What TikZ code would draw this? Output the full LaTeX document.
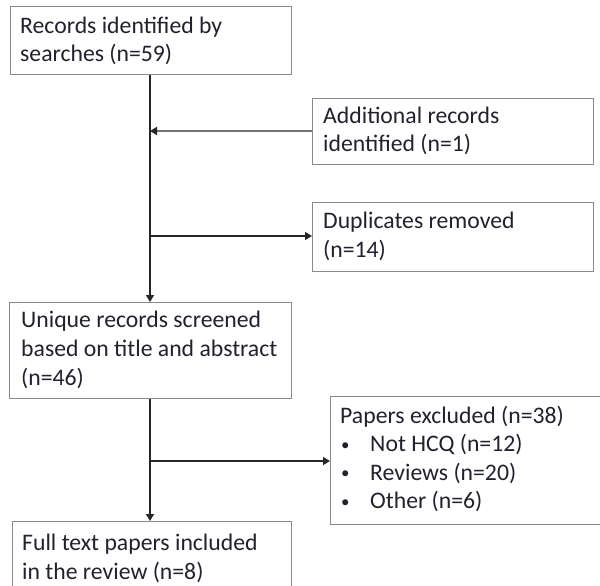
\documentclass[tikz,border=0pt]{standalone}
\usepackage{fontspec}
\setmainfont{Carlito}
\usetikzlibrary{arrows.meta}
\definecolor{boxgray}{HTML}{8A8A8A}
\definecolor{txt}{HTML}{22222E}
\tikzset{
  box/.style={draw=boxgray, line width=1.2bp, anchor=north west, inner sep=0pt},
  lbl/.style={anchor=base west, inner sep=0pt, align=left, text=txt,
    font=\fontsize{23.8}{29}\selectfont},
  conn/.style={draw=black!85, line width=1.4bp},
  arr/.style={conn, -{Triangle[length=7bp,width=8bp,color=black!85]}},
}
\newcommand{\bul}{\makebox[30bp][l]{\hspace*{1bp}\raisebox{1.5bp}{\fontsize{17}{17}\selectfont •}}}
\begin{document}
\begin{tikzpicture}[x=1bp,y=-1bp]
\useasboundingbox[fill=white] (0,0) rectangle (600,586);
% boxes
\node[box, minimum width=281bp, minimum height=68bp] (rec) at (10,6) {};
\node[box, minimum width=281bp, minimum height=66bp] (add) at (312,98) {};
\node[box, minimum width=281bp, minimum height=69bp] (dup) at (312,202) {};
\node[box, minimum width=282bp, minimum height=96bp] (uni) at (9,302) {};
\node[box, minimum width=275bp, minimum height=128bp] (exc) at (330,396) {};
\node[box, minimum width=279bp, minimum height=70bp] (ful) at (12,521) {};
% texts (anchored at the baseline of their last line)
\node[lbl] (recT) at (20,62) {Records identified by\\searches (n=59)};
\node[lbl] (addT) at (323,152) {Additional records\\identified (n=1)};
\node[lbl] (dupT) at (323,257) {Duplicates removed\\(n=14)};
\node[lbl] (uniT) at (21,385) {Unique records screened\\based on title and abstract\\(n=46)};
\node[lbl, font=\fontsize{23.8}{28.5}\selectfont] (excT) at (340,508.5)
  {Papers excluded (n=38)\\\bul Not HCQ (n=12)\\\bul Reviews (n=20)\\\bul Other (n=6)};
\node[lbl] (fulT) at (22,579) {Full text papers included\\in the review (n=8)};
% junction points
\coordinate (jA) at (150,131);
\coordinate (jB) at (150,236);
\coordinate (jC) at (150,461);
% connectors
\draw[arr] (rec.south -| jA) -- (uni.north -| jA);
\draw[arr, draw=black!55, line width=2bp] (add.west |- jA) -- (jA);
\draw[arr] (jB) -- (dup.west |- jB);
\draw[arr] (uni.south -| jC) -- (ful.north -| jC);
\draw[arr] (jC) -- (exc.west |- jC);
\end{tikzpicture}
\end{document}
